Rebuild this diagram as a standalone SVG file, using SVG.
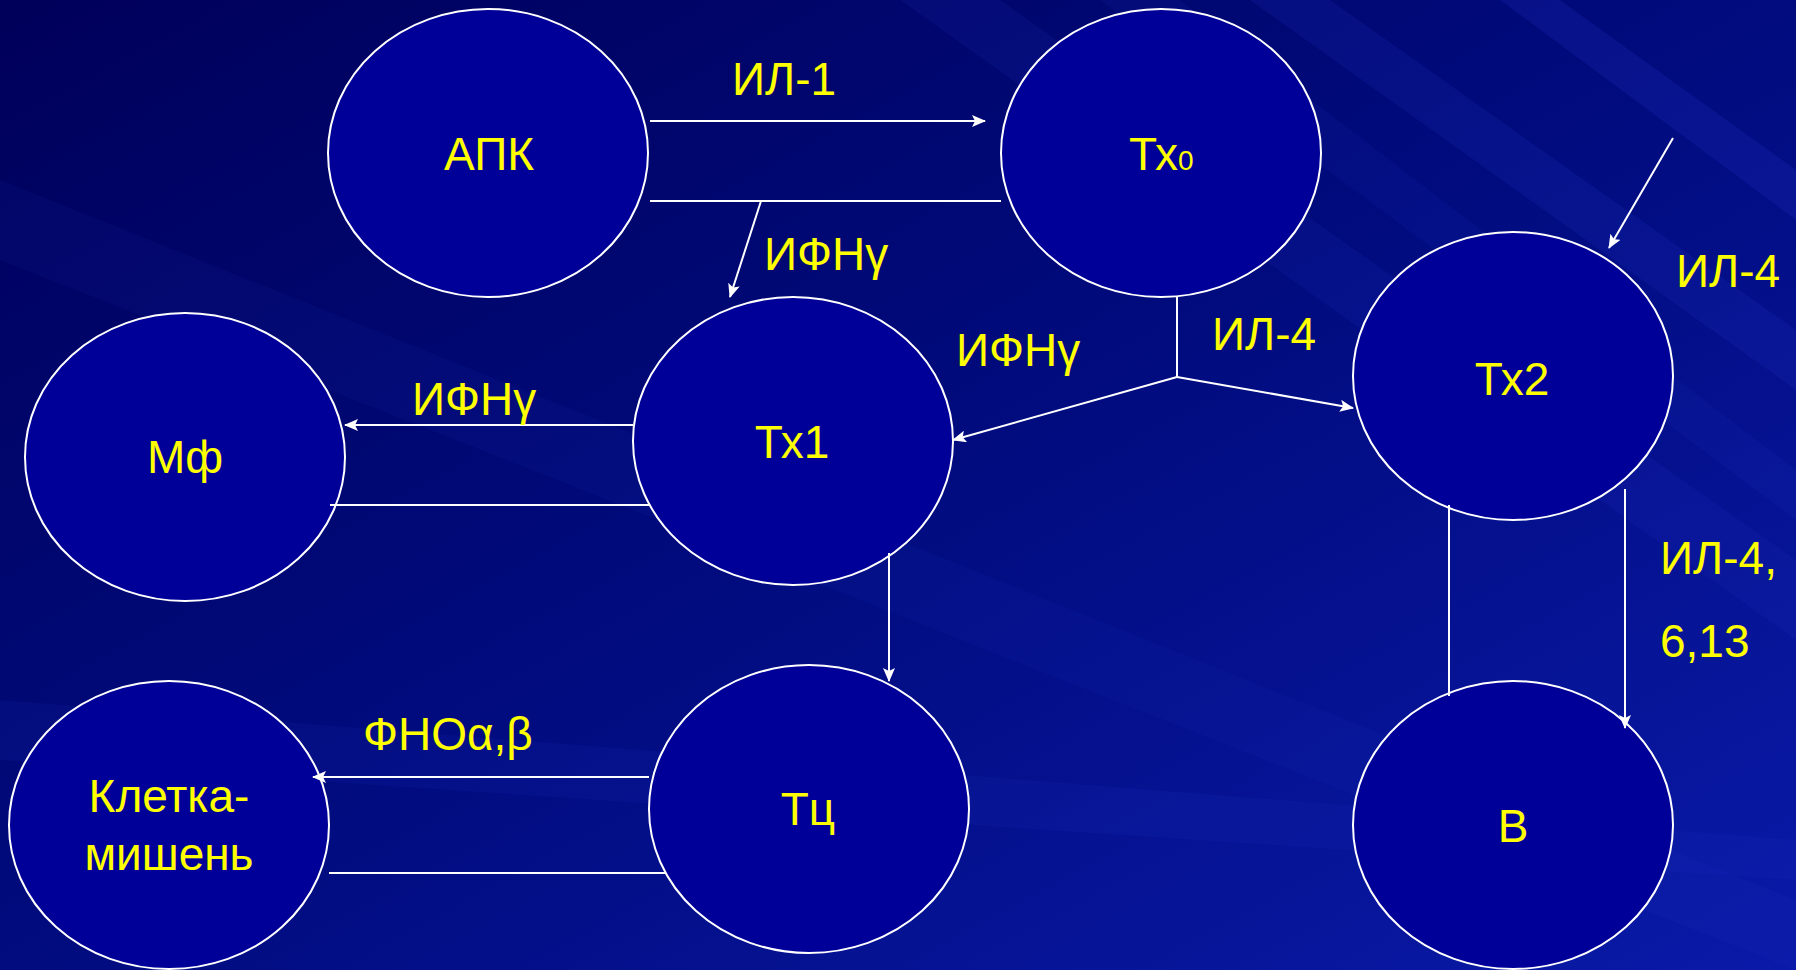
<svg xmlns="http://www.w3.org/2000/svg" width="1796" height="970" viewBox="0 0 1796 970">
<defs>
<linearGradient id="bg" x1="0" y1="0" x2="1" y2="1">
<stop offset="0" stop-color="#00005a"/>
<stop offset="0.45" stop-color="#000a7a"/>
<stop offset="1" stop-color="#0a1aa8"/>
</linearGradient>
<marker id="ah" markerUnits="userSpaceOnUse" markerWidth="14" markerHeight="12" refX="13" refY="6" orient="auto">
<path d="M0,0 L14,6 L0,12 L3,6 Z" fill="#ffffff"/>
</marker>
<style>
.node ellipse{fill:#000099;stroke:#ffffff;stroke-width:2}
.t{font-family:"Liberation Sans",Arial,sans-serif;font-size:46px;fill:#ffff00}
.c{text-anchor:middle}
.conn line,.conn polyline{stroke:#ffffff;stroke-width:2;fill:none}
</style>
</defs>
<rect width="1796" height="970" fill="url(#bg)"/>
<g id="streaks" fill="#2a3ad0">
<polygon points="900,0 1000,0 1796,560 1796,640" opacity="0.12"/>
<polygon points="1250,0 1330,0 1796,330 1796,390" opacity="0.15"/>
<polygon points="1500,0 1560,0 1796,170 1796,220" opacity="0.18"/>
<polygon points="0,700 1796,840 1796,880 0,760" opacity="0.1"/>
<polygon points="0,180 1796,900 1796,970 0,260" opacity="0.08"/>
<polygon points="1100,0 1180,0 1796,470 1796,520" opacity="0.1"/>
</g>
<g id="node-apk" class="node"><ellipse cx="488" cy="153" rx="160" ry="144"/><text class="t c" x="489" y="170">АПК</text></g>
<g id="node-tx0" class="node"><ellipse cx="1161" cy="153" rx="160" ry="144"/><text class="t" x="1129" y="170">Тх<tspan font-size="28">0</tspan></text></g>
<g id="node-tx1" class="node"><ellipse cx="793" cy="441" rx="160" ry="144"/><text class="t c" x="792" y="458">Тх1</text></g>
<g id="node-mf" class="node"><ellipse cx="185" cy="457" rx="160" ry="144"/><text class="t c" x="185" y="473">Мф</text></g>
<g id="node-tx2" class="node"><ellipse cx="1513" cy="376" rx="160" ry="144"/><text class="t c" x="1512" y="395">Тх2</text></g>
<g id="node-b" class="node"><ellipse cx="1513" cy="825" rx="160" ry="144"/><text class="t c" x="1513" y="842">В</text></g>
<g id="node-kletka" class="node"><ellipse cx="169" cy="825" rx="160" ry="144"/><text class="t c" x="169" y="812">Клетка-</text><text class="t c" x="169" y="870">мишень</text></g>
<g id="node-tc" class="node"><ellipse cx="809" cy="809" rx="160" ry="144"/><text class="t c" x="808" y="825">Тц</text></g>
<g id="connectors" class="conn">
<line x1="650" y1="121" x2="985" y2="121" marker-end="url(#ah)"/>
<line x1="650" y1="201" x2="1001" y2="201"/>
<line x1="761" y1="201" x2="730" y2="297" marker-end="url(#ah)"/>
<line x1="633" y1="425" x2="345" y2="425" marker-end="url(#ah)"/>
<line x1="330" y1="505" x2="649" y2="505"/>
<line x1="1177" y1="297" x2="1177" y2="377"/>
<line x1="1177" y1="377" x2="953" y2="440" marker-end="url(#ah)"/>
<line x1="1177" y1="377" x2="1353" y2="408" marker-end="url(#ah)"/>
<line x1="889" y1="553" x2="889" y2="681" marker-end="url(#ah)"/>
<line x1="649" y1="777" x2="313" y2="777" marker-end="url(#ah)"/>
<line x1="329" y1="873" x2="665" y2="873"/>
<line x1="1449" y1="505" x2="1449" y2="696"/>
<line x1="1625" y1="489" x2="1625" y2="728" marker-end="url(#ah)"/>
<line x1="1673" y1="138" x2="1609" y2="248" marker-end="url(#ah)"/>
</g>
<g id="labels">
<text class="t" x="732" y="95">ИЛ-1</text>
<text class="t" x="764" y="270">ИФНγ</text>
<text class="t" x="956" y="366">ИФНγ</text>
<text class="t" x="1212" y="350">ИЛ-4</text>
<text class="t" x="412" y="415">ИФНγ</text>
<text class="t" x="1676" y="287">ИЛ-4</text>
<text class="t" x="1660" y="574">ИЛ-4,</text>
<text class="t" x="1660" y="657">6,13</text>
<text class="t" x="363" y="750">ФНОα,β</text>
</g>
</svg>
